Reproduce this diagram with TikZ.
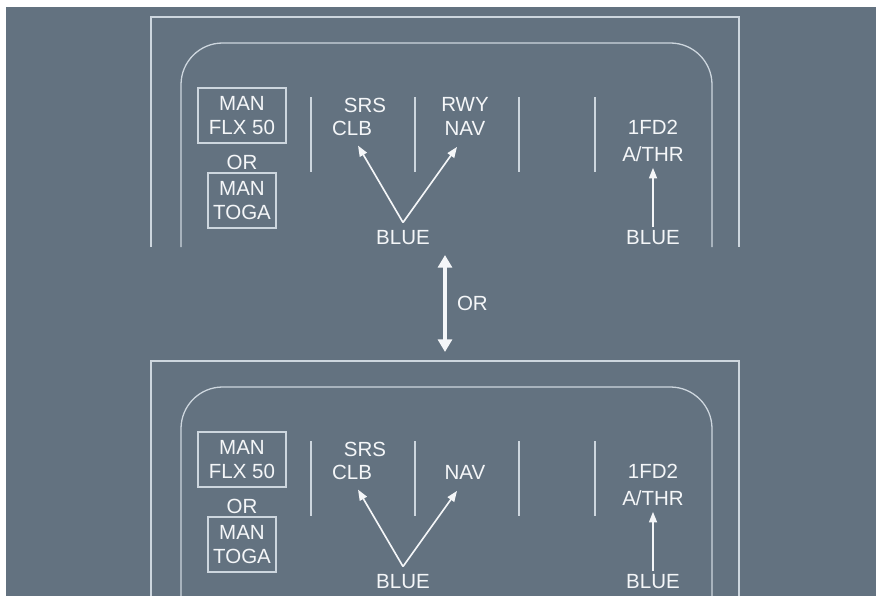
\documentclass[tikz,border=0pt]{standalone}
\usepackage{fontspec}
\setmainfont{Liberation Sans}
\usetikzlibrary{arrows.meta,positioning}
\definecolor{panelbg}{RGB}{99,114,128}
\definecolor{framegray}{RGB}{205,214,222}
\definecolor{ink}{RGB}{244,246,248}

\begin{document}
\begin{tikzpicture}[x=0.03cm,y=-0.03cm,>=Triangle,semithick,
  frameline/.style={draw=framegray,line width=1.1pt},
  fmatext/.style={text=ink,font=\fontsize{17.5}{20.5}\selectfont,align=center,inner sep=0pt},
  modebox/.style={fmatext,frameline,minimum height=1.65cm},
  feed/.style={draw=ink,line width=1.4pt,-{Triangle[length=0.32cm,width=0.24cm]}}]
  \useasboundingbox (0,0) rectangle (876,596);
  \fill[white] (0,0) rectangle (876,596);
  \fill[panelbg] (6,7) rectangle (876,596);
  % two FMA panels, same layout
  \foreach \p/\dy/\bot/\nav in {top/0/247/{RWY\\NAV},bot/344/253/{\phantom{RWY}\\NAV}} {
    \begin{scope}[shift={(0,\dy)}]
      \draw[frameline] (151,\bot) -- (151,17) -- (739,17) -- (739,\bot);
      \draw[frameline,rounded corners=1.25cm] (181,\bot) -- (181,43) -- (712,43) -- (712,\bot);
      \foreach \x in {311,415,519,595}
        \draw[frameline] (\x,97) -- (\x,172);
      \node[modebox,minimum width=2.64cm] (flx-\p) at (242,115.5) {MAN\\FLX 50};
      \node[fmatext] (or-\p) at (242,162) {OR};
      \node[modebox,minimum width=2.04cm] (toga-\p) at (242,200.5) {MAN\\TOGA};
      \node[fmatext] (srs-\p) at (365,105) {SRS};
      \node[fmatext] (clb-\p) at (352,128) {CLB};
      \node[fmatext] (nav-\p) at (465,116.5) {\nav};
      \node[fmatext] (fd-\p) at (653,141) {1FD2\\[2pt]A/THR};
      \node[fmatext] (blue-\p) at (403,238) {BLUE};
      \node[fmatext] (bluer-\p) at (653,238) {BLUE};
      \draw[feed] ([yshift=0.24cm]blue-\p.north) -- ([xshift=0.18cm,yshift=-0.3cm]clb-\p.south);
      \draw[feed] ([yshift=0.24cm]blue-\p.north) -- ([xshift=-0.24cm,yshift=-0.33cm]nav-\p.south);
      \draw[feed] ([yshift=0.1cm]bluer-\p.north) -- ([yshift=-0.18cm]fd-\p.south);
    \end{scope}
  }
  % either / or
  \coordinate (ortop) at (445,255);
  \coordinate (orbot) at (445,352);
  \draw[draw=ink,line width=3.4pt,{Triangle[length=0.38cm,width=0.42cm]}-{Triangle[length=0.38cm,width=0.42cm]}]
    (ortop) -- (orbot) node[fmatext,midway,right=0.3cm] (or) {OR};
\end{tikzpicture}
\end{document}
